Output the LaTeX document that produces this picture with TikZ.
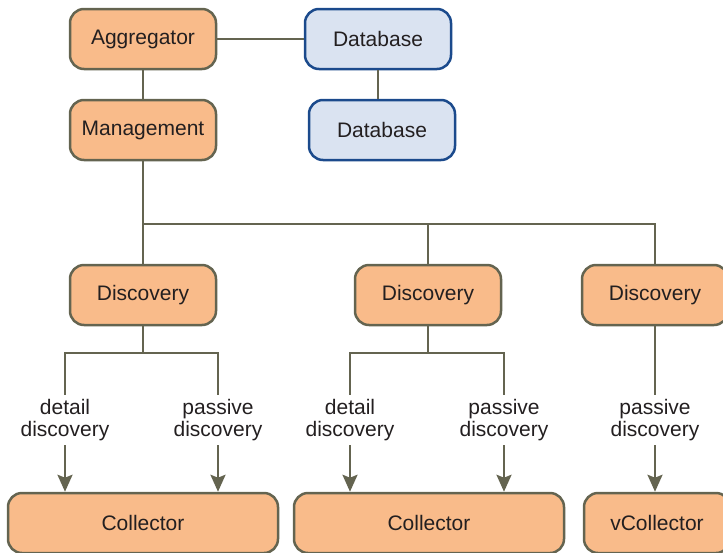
\documentclass[tikz,border=0pt]{standalone}
\usepackage{fontspec}
\setmainfont{Liberation Sans}
\usetikzlibrary{arrows.meta}
\definecolor{boxfill}{HTML}{F9BB8A}
\definecolor{boxline}{HTML}{646450}
\definecolor{dbfill}{HTML}{DAE3F1}
\definecolor{dbline}{HTML}{1B4A8C}
\definecolor{txt}{HTML}{231F20}

\begin{document}
\begin{tikzpicture}[x=1pt,y=-1pt,line width=2.5pt,
  box/.style={draw=boxline,fill=boxfill,rounded corners=14pt,minimum width=146pt,
    minimum height=60pt,inner sep=0pt,text=txt,font=\fontsize{21}{22}\selectfont},
  dbox/.style={box,draw=dbline,fill=dbfill},
  wide/.style={box,minimum width=270pt},
  lbl/.style={align=center,inner sep=3pt,text=txt,font=\fontsize{21}{22}\selectfont},
  link/.style={draw=boxline},
  arr/.style={link,-{Stealth[length=17pt,width=15pt,inset=3pt]}}]
  \useasboundingbox (0,0) rectangle (723,552);

  \node[box] (ag) at (143,39) {Aggregator};
  \node[dbox] (db1) at (378,39) {Database};
  \node[box] (mg) at (143,130) {Management};
  \node[dbox] (db2) at (382,130) {Database};
  \node[box] (dc1) at (143,295) {Discovery};
  \node[box] (dc2) at (428,295) {Discovery};
  \node[box] (dc3) at (655,295) {Discovery};
  \node[wide] (co1) at (143,523) {Collector};
  \node[wide] (co2) at (429,523) {Collector};
  \node[box] (vc) at (657,523) {vCollector};

  \node[lbl] (lb1) at (65,420) {detail\\discovery};
  \node[lbl] (lb2) at (218,420) {passive\\discovery};
  \node[lbl] (lb3) at (350,420) {detail\\discovery};
  \node[lbl] (lb4) at (504,420) {passive\\discovery};
  \node[lbl] (lb5) at (655,420) {passive\\discovery};

  \coordinate (j0) at (143,224);
  \coordinate (j1) at (143,353);
  \coordinate (j2) at (428,353);

  \path[link] (ag) edge (db1)
                   edge (mg);
  \draw[link] (db1) -- (db1 |- db2.north);

  \draw[link] (mg) -- (j0) -- (dc1);
  \draw[link] (j0) -| (dc2);
  \draw[link] (j0) -| (dc3);
  \draw[link] (dc1) -- (j1);
  \draw[link] (j1) -| (lb1);
  \draw[link] (j1) -| (lb2);
  \draw[link] (dc2) -- (j2);
  \draw[link] (j2) -| (lb3);
  \draw[link] (j2) -| (lb4);
  \draw[link] (dc3) -- (lb5);

  \draw[arr] (lb1) -- (lb1 |- co1.north);
  \draw[arr] (lb2) -- (lb2 |- co1.north);
  \draw[arr] (lb3) -- (lb3 |- co2.north);
  \draw[arr] (lb4) -- (lb4 |- co2.north);
  \draw[arr] (lb5) -- (lb5 |- vc.north);

\end{tikzpicture}
\end{document}
